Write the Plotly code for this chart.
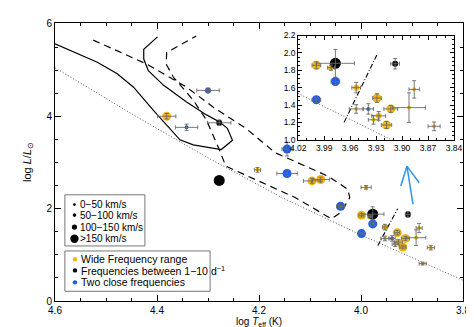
import plotly.graph_objects as go

# ---------------- data ----------------
# stars: log Teff, log L/Lsun, errors, v sin i class (1..4), frequency group
teff = [4.300, 4.381, 4.342, 4.278, 4.278, 4.203, 4.145, 4.145, 4.096, 4.079,
        3.990, 4.040, 3.999, 3.977, 3.982, 3.977, 3.999, 3.908, 3.953, 3.929,
        3.913, 3.927, 3.933, 3.918, 3.953, 3.939, 3.892, 3.886, 3.863, 3.879]
logl = [4.56, 4.00, 3.76, 3.86, 2.61, 2.84, 3.29, 2.76, 2.60, 2.63,
        2.46, 2.05, 1.857, 1.88, 1.83, 1.67, 1.46, 1.875, 1.60, 1.48,
        1.355, 1.275, 1.23, 1.17, 1.355, 1.355, 1.37, 1.58, 1.155, 0.81]
err_t = [0.022, 0.018, 0.022, 0.023, 0.0, 0.006, 0.010, 0.020, 0.017, 0.017,
         0.010, 0.008, 0.005, 0.022, 0.004, 0.005, 0.005, 0.005, 0.005, 0.005,
         0.008, 0.008, 0.006, 0.006, 0.008, 0.006, 0.019, 0.006, 0.007, 0.007]
err_l = [0.05, 0.06, 0.07, 0.06, 0.0, 0.05, 0.15, 0.05, 0.05, 0.05,
         0.04, 0.04, 0.04, 0.16, 0.03, 0.04, 0.03, 0.06, 0.06, 0.05,
         0.04, 0.05, 0.05, 0.04, 0.05, 0.06, 0.17, 0.10, 0.05, 0.03]
vsini_class = [2, 3, 1, 2, 4, 1, 3, 3, 3, 3,
               1, 3, 3, 4, 2, 3, 3, 2, 2, 3,
               3, 2, 1, 3, 1, 1, 1, 1, 1, 1]
group = ["close", "wide", "close", "mid", "mid", "wide", "close", "close", "wide", "wide",
         "wide", "close", "wide", "mid", "wide", "close", "close", "mid", "wide", "wide",
         "wide", "wide", "wide", "wide", "wide", "close", "wide", "wide", "wide", "wide"]

size_labels = ["0\u221250 km/s", "50\u2212100 km/s", "100\u2212150 km/s", ">150 km/s"]
group_labels = {"wide": "Wide Frequency range",
                "mid": "Frequencies between 1\u221210 d<sup>\u22121</sup>",
                "close": "Two close frequencies"}
group_order = ["wide", "mid", "close"]

# evolutionary tracks / reference lines
solid_t = [4.600, 4.517, 4.478, 4.446, 4.407, 4.375, 4.355, 4.329, 4.274, 4.252,
           4.262, 4.278, 4.303, 4.342, 4.387, 4.417, 4.426, 4.426, 4.399]
solid_l = [5.57, 5.17, 4.92, 4.63, 4.13, 3.74, 3.49, 3.38, 3.28, 3.48,
           3.74, 3.88, 4.03, 4.31, 4.67, 4.99, 5.24, 5.45, 5.72]
dashed_t = [4.525, 4.420, 4.342, 4.290, 4.226, 4.168, 4.064, 4.026, 4.022, 4.039,
            4.058, 4.129, 4.265, 4.278, 4.303, 4.329, 4.368, 4.382, 4.381, 4.323]
dashed_l = [5.65, 5.13, 4.63, 4.20, 3.74, 3.21, 2.70, 2.42, 2.24, 1.92,
            1.78, 2.24, 2.92, 3.28, 3.92, 4.35, 4.85, 5.13, 5.38, 5.74]
zams_t = [4.60, 4.44, 4.30, 4.155, 4.00, 3.80]
zams_l = [5.05, 3.99, 3.10, 2.24, 1.43, 0.45]
dashdot_t = [3.967, 3.928]
dashdot_l = [1.20, 2.00]
arrow_t = [3.898, 3.910, 3.922, None, 3.910, 3.886]
arrow_l = [2.10, 2.92, 2.49, None, 2.92, 2.56]

# ---------------- style ----------------
colors = {"wide": "#F6B60C", "mid": "#000000", "close": "#1A5CF2"}
size_px = {1: 4, 2: 6, 3: 9, 4: 11}
legend_size_px = {1: 2.8, 2: 3.6, 3: 5.2, 4: 8.4}
FONT = "Liberation Sans, Arial, sans-serif"

fig = go.Figure()

def add_lines(xa, ya, which):
    if "solid" in which:
        fig.add_trace(go.Scatter(x=solid_t, y=solid_l, mode="lines", xaxis=xa, yaxis=ya,
                                 line=dict(color="black", width=1.2), showlegend=False, hoverinfo="skip"))
    if "dashed" in which:
        fig.add_trace(go.Scatter(x=dashed_t, y=dashed_l, mode="lines", xaxis=xa, yaxis=ya,
                                 line=dict(color="black", width=1.2, dash="7px,5px"),
                                 showlegend=False, hoverinfo="skip"))
    if "zams" in which:
        fig.add_trace(go.Scatter(x=zams_t, y=zams_l, mode="lines", xaxis=xa, yaxis=ya,
                                 line=dict(color="#555", width=1, dash="1px,2px"),
                                 showlegend=False, hoverinfo="skip"))
    if "dashdot" in which:
        fig.add_trace(go.Scatter(x=dashdot_t, y=dashdot_l, mode="lines", xaxis=xa, yaxis=ya,
                                 line=dict(color="black", width=1.1, dash="5px,2px,1px,2px"),
                                 showlegend=False, hoverinfo="skip"))
    if "arrow" in which:
        fig.add_trace(go.Scatter(x=arrow_t, y=arrow_l, mode="lines", xaxis=xa, yaxis=ya,
                                 line=dict(color="#2E93F7", width=1.5),
                                 showlegend=False, hoverinfo="skip", connectgaps=False))

def add_points(xa, ya):
    for g in group_order:
        idx = [i for i in range(len(teff)) if group[i] == g]
        fig.add_trace(go.Scatter(
            x=[teff[i] for i in idx], y=[logl[i] for i in idx], mode="markers",
            xaxis=xa, yaxis=ya, opacity=1,
            marker=dict(color=colors[g], size=[size_px[vsini_class[i]] for i in idx],
                        opacity=1, line=dict(width=0)),
            showlegend=False, hoverinfo="skip"))
    # error bars drawn on top of the markers
    idx = [i for i in range(len(teff)) if err_t[i] > 0 or err_l[i] > 0]
    fig.add_trace(go.Scatter(
        x=[teff[i] for i in idx], y=[logl[i] for i in idx], mode="markers",
        xaxis=xa, yaxis=ya, marker=dict(size=1, color="rgba(0,0,0,0)"),
        error_x=dict(type="data", array=[err_t[i] for i in idx], color="#6a6a6a",
                     thickness=0.9, width=2),
        error_y=dict(type="data", array=[err_l[i] for i in idx], color="#6a6a6a",
                     thickness=0.9, width=2),
        showlegend=False, hoverinfo="skip"))

# main panel
add_lines("x", "y", ["solid", "dashed", "zams", "dashdot", "arrow"])
add_points("x", "y")
# inset
add_lines("x2", "y2", ["zams", "dashdot"])
add_points("x2", "y2")

# ---------------- hand-drawn legends (paper coordinates) ----------------
shapes = []
annotations = []
# box 1: v sin i classes
shapes.append(dict(type="rect", xref="paper", yref="paper", x0=0.0242, x1=0.2203,
                   y0=0.198, y1=0.382, line=dict(color="#777", width=1), fillcolor="white",
                   layer="above"))
row_y1 = [0.347, 0.309, 0.266, 0.224]
for k, (lab, yy) in enumerate(zip(size_labels, row_y1), start=1):
    r = legend_size_px[k] / 2
    shapes.append(dict(type="circle", xref="paper", yref="paper", xsizemode="pixel",
                       ysizemode="pixel", xanchor=0.0477, yanchor=yy, x0=-r, x1=r, y0=-r, y1=r,
                       fillcolor="black", line=dict(width=0), layer="above"))
    annotations.append(dict(text=lab, xref="paper", yref="paper", x=0.056, y=yy,
                            xanchor="left", yanchor="middle", showarrow=False,
                            font=dict(size=10, family=FONT)))
# box 2: frequency groups
shapes.append(dict(type="rect", xref="paper", yref="paper", x0=0.0242, x1=0.3801,
                   y0=0.035, y1=0.180, line=dict(color="#777", width=1), fillcolor="white",
                   layer="above"))
row_y2 = [0.150, 0.110, 0.067]
for g, yy in zip(group_order, row_y2):
    shapes.append(dict(type="circle", xref="paper", yref="paper", xsizemode="pixel",
                       ysizemode="pixel", xanchor=0.049, yanchor=yy, x0=-2.2, x1=2.2,
                       y0=-2.2, y1=2.2, fillcolor=colors[g], line=dict(width=0),
                       layer="above"))
    annotations.append(dict(text=group_labels[g], xref="paper", yref="paper", x=0.060, y=yy,
                            xanchor="left", yanchor="middle", showarrow=False,
                            font=dict(size=10.5, family=FONT)))

axis_common = dict(showline=True, linecolor="black", linewidth=1, mirror="allticks",
                   ticks="inside", tickcolor="black", showgrid=False, zeroline=False)

fig.update_layout(
    width=474, height=327,
    margin=dict(l=47, r=14, t=10, b=34),
    paper_bgcolor="white", plot_bgcolor="white",
    font=dict(family=FONT, size=10, color="black"),
    showlegend=False,
    shapes=shapes, annotations=annotations,
    xaxis=dict(range=[4.6, 3.8], tickvals=[4.6, 4.4, 4.2, 4.0, 3.8],
               ticktext=["4.6", "4.4", "4.2", "4.0", "3.8"], ticklen=6,
               minor=dict(ticks="inside", ticklen=3, dtick=0.05, tickcolor="black"),
               title=dict(text="log <i>T</i><sub>eff</sub> (K)", standoff=2,
                          font=dict(size=10)),
               tickfont=dict(size=10), **axis_common),
    yaxis=dict(range=[0, 6.02], tickvals=[0, 2, 4, 6], ticktext=["0", "2", "4", "6"],
               ticklen=6,
               minor=dict(ticks="inside", ticklen=3, dtick=0.5, tickcolor="black"),
               title=dict(text="log <i>L</i>/<i>L</i><sub>\u2299</sub>", standoff=12,
                          font=dict(size=11)),
               tickfont=dict(size=10), **axis_common),
    xaxis2=dict(domain=[0.596, 0.978], anchor="y2", range=[4.02, 3.84],
                tickvals=[4.02, 3.99, 3.96, 3.93, 3.90, 3.87, 3.84],
                ticktext=["4.02", "3.99", "3.96", "3.93", "3.90", "3.87", "3.84"],
                ticklen=4, minor=dict(ticks="inside", ticklen=2, dtick=0.01, tickcolor="black"),
                tickfont=dict(size=8.5), **axis_common),
    yaxis2=dict(domain=[0.580, 0.955], anchor="x2", range=[1.0, 2.2],
                tickvals=[1.0, 1.2, 1.4, 1.6, 1.8, 2.0, 2.2],
                ticktext=["1.0", "1.2", "1.4", "1.6", "1.8", "2.0", "2.2"],
                ticklen=4, minor=dict(ticks="inside", ticklen=2, dtick=0.05, tickcolor="black"),
                tickfont=dict(size=8.5), **axis_common),
)

fig.write_html("out.html")
